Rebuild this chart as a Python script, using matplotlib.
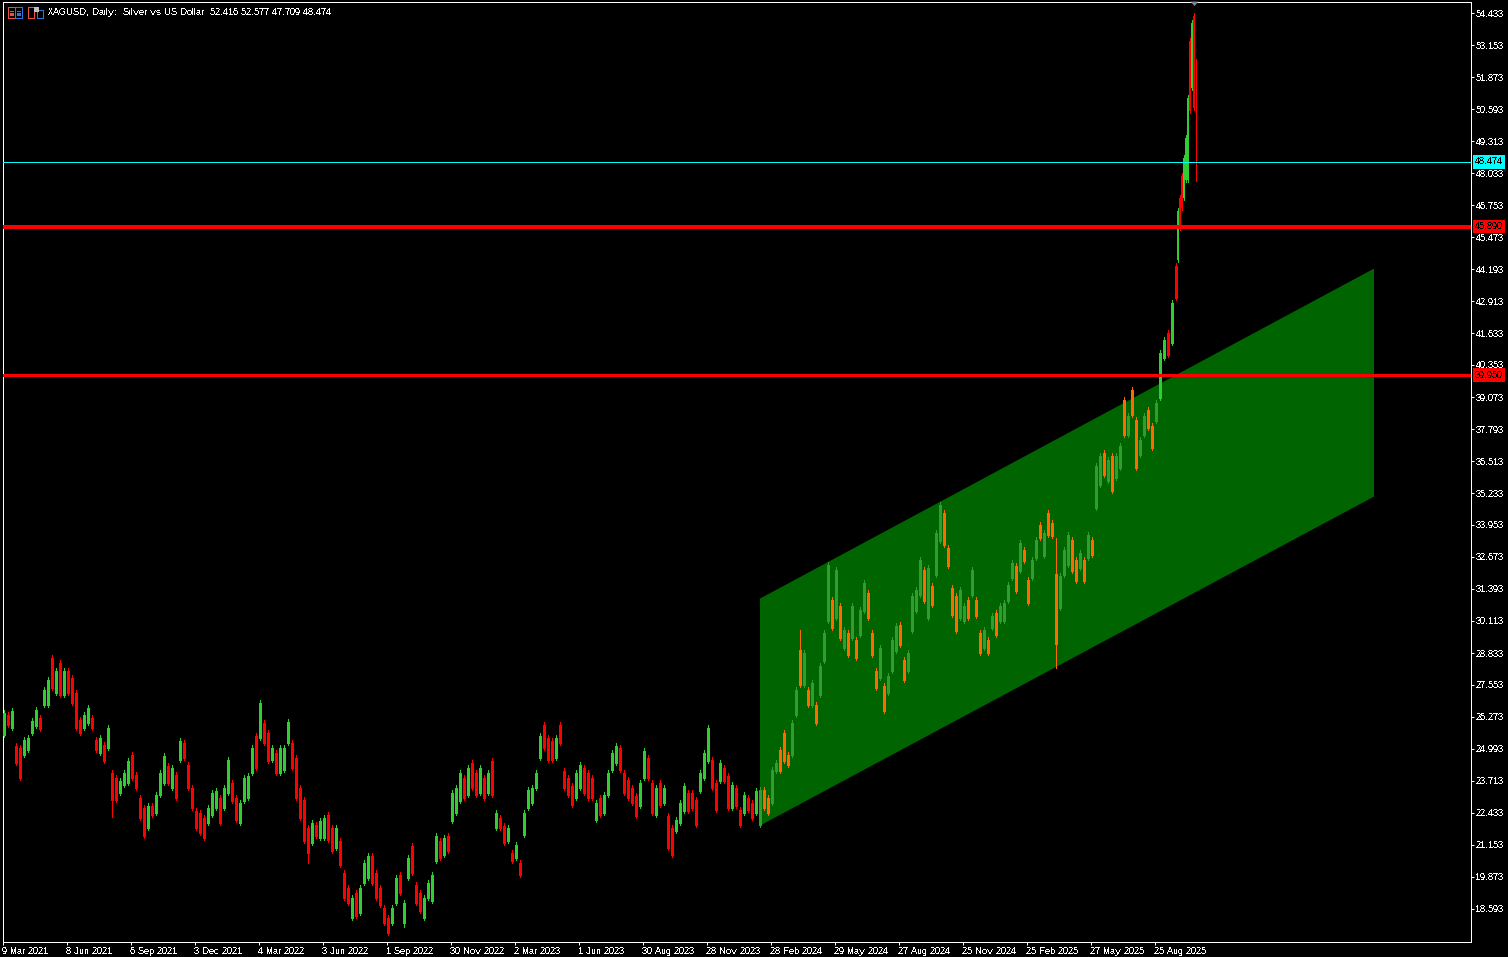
import numpy as np
import matplotlib
matplotlib.use('Agg')
import matplotlib.pyplot as plt
from matplotlib.patches import Rectangle

plt.rcParams['font.family'] = ['Liberation Sans', 'DejaVu Sans']
plt.rcParams['text.antialiased'] = False
plt.rcParams['text.hinting'] = 'native'
plt.rcParams['text.hinting_factor'] = 1

# XAGUSD daily candles, one row per 40 px of chart
highs = [
    26.55, 26.47, 26.63, 25.23, 25.15, 25.47, 25.55, 26.23, 26.67, 26.35,
    27.47, 27.87, 28.75, 28.23, 28.55, 28.23, 28.23, 27.95, 27.35, 26.27,
    26.47, 26.75, 26.35, 25.47, 25.55, 25.27, 25.95, 24.15, 23.95, 23.83,
    24.15, 24.63, 24.87, 24.07, 23.15, 22.75, 22.83, 22.83, 23.27, 24.15,
    24.83, 24.43, 24.35, 24.07, 25.43, 25.35, 24.47, 23.55, 22.63, 22.55,
    22.35, 22.75, 23.35, 23.43, 23.15, 23.55, 24.67, 23.75, 23.15, 22.95,
    23.95, 24.03, 25.15, 25.63, 26.95, 26.15, 25.75, 25.15, 24.95, 25.15,
    25.15, 26.19, 25.35, 24.75, 23.55, 23.07, 21.95, 22.15, 22.07, 22.23,
    22.35, 22.47, 21.95, 21.95, 21.43, 20.15, 19.55, 19.15, 19.35, 19.55,
    20.55, 20.83, 20.83, 20.15, 19.55, 18.75, 18.35, 18.75, 19.95, 20.07,
    18.95, 20.75, 21.23, 19.67, 19.35, 19.15, 19.75, 20.07, 21.63, 21.43,
    21.55, 21.63, 23.35, 23.55, 24.15, 23.95, 24.35, 24.55, 24.15, 24.35,
    23.95, 24.15, 24.63, 22.55, 22.35, 22.03, 21.95, 20.95, 21.27, 20.55,
    22.55, 23.47, 23.55, 24.15, 25.63, 26.07, 25.55, 25.43, 25.55, 26.07,
    24.23, 23.95, 23.63, 24.15, 24.47, 24.35, 24.15, 23.95, 22.95, 23.15,
    23.27, 24.15, 24.95, 25.23, 25.15, 24.15, 23.87, 23.55, 23.23, 23.75,
    25.03, 24.75, 23.75, 23.55, 23.75, 23.55, 22.43, 21.95, 22.27, 22.95,
    23.63, 23.35, 23.35, 23.07, 24.15, 24.95, 25.95, 24.67, 23.75, 24.55,
    24.35, 24.03, 23.67, 23.55, 22.67, 23.27, 23.15, 22.95, 23.43, 23.47,
    23.47, 23.15, 24.27, 24.55, 25.07, 25.75, 24.87, 26.15, 27.47, 29.75,
    28.95, 27.47, 27.75, 26.87, 28.43, 29.75, 32.47, 31.07, 32.27, 30.83,
    29.87, 29.75, 30.83, 29.47, 30.67, 31.75, 31.35, 29.75, 28.23, 29.15,
    27.63, 28.03, 29.47, 30.03, 30.07, 28.67, 28.95, 31.23, 31.47, 32.67,
    32.27, 32.35, 31.63, 33.75, 34.87, 34.55, 33.15, 31.55, 31.23, 31.47,
    30.83, 31.07, 32.27, 31.07, 29.75, 29.87, 29.47, 30.43, 30.55, 30.83,
    30.95, 31.67, 32.55, 32.43, 33.35, 33.07, 31.87, 32.67, 33.47, 34.07,
    33.75, 34.55, 34.15, 33.43, 32.03, 33.07, 33.67, 33.47, 32.67, 32.95,
    32.67, 33.67, 33.47, 36.43, 36.83, 36.95, 36.67, 36.83, 36.83, 37.23,
    39.07, 38.43, 39.47, 38.27, 37.47, 38.43, 38.67, 38.03, 38.95, 40.95,
    41.47, 41.75, 42.95, 44.43, 46.63, 47.15, 48.03, 48.75, 49.55, 51.15, 53.43, 54.15, 54.43, 52.577,
]
lows = [
    25.47, 25.87, 25.75, 24.35, 23.75, 24.67, 24.87, 25.55, 25.83, 25.71,
    26.67, 26.67, 27.35, 27.15, 27.07, 27.07, 27.15, 26.75, 25.75, 25.55,
    25.75, 25.95, 25.75, 24.87, 24.75, 24.43, 24.95, 22.27, 22.87, 23.15,
    23.47, 23.55, 23.75, 23.35, 22.15, 21.43, 21.75, 22.27, 22.35, 23.07,
    23.55, 23.55, 23.35, 22.95, 24.47, 24.55, 23.35, 22.55, 21.75, 21.55,
    21.35, 21.95, 22.27, 22.55, 21.95, 22.55, 23.15, 22.83, 22.07, 21.95,
    22.83, 22.95, 23.95, 24.15, 25.35, 25.15, 24.43, 24.47, 23.95, 23.95,
    24.07, 25.15, 24.15, 22.95, 22.15, 21.23, 20.43, 21.15, 21.43, 21.35,
    21.35, 21.27, 20.83, 20.95, 20.27, 18.95, 18.75, 18.15, 18.23, 18.35,
    19.55, 19.75, 19.55, 18.95, 18.67, 17.95, 17.55, 17.95, 18.75, 19.15,
    17.87, 19.75, 19.95, 18.75, 18.43, 18.15, 18.95, 18.83, 20.43, 20.55,
    20.67, 20.83, 22.03, 22.35, 22.83, 22.95, 23.07, 23.35, 23.07, 23.15,
    22.95, 23.15, 23.07, 21.75, 21.75, 21.15, 21.23, 20.43, 20.55, 19.87,
    21.47, 22.55, 22.75, 23.35, 24.55, 24.95, 24.47, 24.47, 24.55, 25.15,
    23.35, 23.07, 22.67, 22.95, 23.35, 23.15, 22.95, 22.95, 22.07, 22.27,
    22.35, 23.07, 24.07, 24.35, 24.07, 23.15, 22.95, 22.75, 22.23, 22.63,
    23.75, 23.75, 22.35, 22.27, 22.67, 22.75, 20.95, 20.67, 21.63, 21.95,
    22.43, 22.43, 22.55, 21.87, 23.23, 23.75, 24.43, 23.35, 22.47, 23.63,
    23.63, 22.55, 22.55, 22.63, 21.87, 22.35, 22.47, 22.15, 22.35, 21.87,
    22.55, 22.35, 22.75, 24.03, 24.03, 24.43, 24.27, 24.67, 26.27, 27.47,
    27.47, 26.67, 26.67, 25.95, 27.07, 28.43, 30.03, 29.75, 30.15, 29.35,
    28.95, 28.67, 29.35, 28.55, 29.47, 30.43, 30.15, 28.67, 27.35, 27.75,
    26.43, 27.15, 28.03, 28.83, 29.07, 27.67, 28.03, 29.63, 30.43, 31.07,
    30.83, 30.15, 30.67, 31.87, 33.23, 33.07, 32.23, 30.27, 29.63, 30.15,
    30.03, 30.15, 31.07, 30.23, 28.75, 28.95, 28.75, 29.75, 29.47, 30.03,
    30.03, 30.83, 31.75, 31.23, 32.03, 32.43, 30.75, 31.75, 32.55, 33.35,
    32.63, 33.47, 33.43, 28.23, 30.55, 31.87, 32.27, 32.03, 31.63, 32.15,
    31.63, 32.55, 32.67, 34.55, 35.47, 35.87, 35.63, 35.23, 35.75, 36.15,
    37.47, 37.47, 38.27, 36.15, 36.67, 37.47, 37.75, 36.95, 38.03, 38.95,
    40.55, 40.67, 41.15, 42.95, 44.47, 45.75, 46.55, 46.95, 47.67, 47.67, 50.43, 51.35, 50.55, 47.709,
]
opens = [
    25.57, 26.37, 25.85, 25.13, 25.05, 24.77, 24.97, 25.65, 25.93, 26.25,
    26.77, 26.77, 28.65, 27.25, 28.45, 27.17, 28.13, 27.85, 27.25, 26.17,
    25.85, 26.05, 26.25, 25.37, 24.85, 25.17, 25.05, 24.05, 23.85, 23.25,
    23.57, 23.65, 24.77, 23.97, 23.05, 22.65, 21.85, 22.73, 22.45, 23.17,
    23.65, 24.33, 23.45, 23.97, 24.57, 25.25, 24.37, 23.45, 22.53, 22.45,
    22.25, 22.05, 22.37, 22.65, 23.05, 22.65, 23.25, 23.65, 23.05, 22.05,
    22.93, 23.05, 24.05, 25.53, 25.45, 26.05, 25.65, 24.57, 24.85, 24.05,
    24.17, 25.25, 25.25, 24.65, 23.45, 22.97, 21.85, 21.25, 21.97, 21.45,
    21.45, 22.37, 21.85, 21.05, 21.33, 20.05, 19.45, 18.25, 19.25, 18.45,
    19.65, 19.85, 20.73, 20.05, 19.45, 18.65, 18.25, 18.05, 18.85, 19.97,
    18.05, 19.85, 21.13, 19.57, 19.25, 18.25, 19.05, 18.93, 20.53, 21.33,
    20.77, 21.53, 22.13, 22.45, 22.93, 23.85, 23.17, 24.45, 24.05, 23.25,
    23.85, 23.25, 24.53, 21.85, 22.25, 21.93, 21.33, 20.85, 20.65, 20.45,
    21.57, 22.65, 22.85, 23.45, 24.65, 25.97, 25.45, 25.33, 24.65, 25.97,
    24.13, 23.85, 23.53, 23.05, 23.45, 24.25, 24.05, 23.85, 22.17, 23.05,
    22.45, 23.17, 24.17, 24.45, 25.05, 24.05, 23.77, 23.45, 23.13, 22.73,
    23.85, 24.65, 23.65, 22.37, 23.65, 22.85, 22.33, 21.85, 21.73, 22.05,
    22.53, 23.25, 23.25, 22.97, 23.33, 23.85, 24.53, 24.57, 23.65, 23.73,
    24.25, 23.93, 22.65, 23.45, 22.57, 22.45, 23.05, 22.85, 22.45, 21.97,
    23.37, 23.05, 22.85, 24.13, 24.97, 25.65, 24.77, 24.77, 26.37, 28.95,
    27.57, 27.37, 26.77, 26.77, 27.17, 28.53, 30.13, 30.97, 30.25, 30.73,
    29.05, 29.65, 29.45, 29.37, 29.57, 30.53, 31.25, 29.65, 28.13, 27.85,
    27.53, 27.25, 28.13, 28.93, 29.97, 28.57, 28.13, 29.73, 30.53, 31.17,
    32.17, 30.25, 31.53, 31.97, 33.33, 34.45, 33.05, 31.45, 31.13, 30.25,
    30.13, 30.97, 31.17, 30.97, 29.65, 29.05, 29.37, 29.85, 30.45, 30.13,
    30.13, 30.93, 31.85, 32.33, 32.13, 32.97, 31.77, 31.85, 32.65, 33.97,
    32.73, 34.45, 34.05, 32.00, 30.65, 31.97, 32.37, 33.37, 32.57, 32.25,
    32.57, 32.65, 33.37, 34.65, 35.57, 36.85, 35.73, 36.73, 35.85, 36.25,
    38.97, 37.57, 39.37, 38.17, 36.77, 37.57, 38.57, 37.93, 38.13, 39.05,
    40.65, 41.65, 41.25, 44.33, 44.57, 47.05, 47.93, 47.05, 47.77, 47.77, 53.33, 51.45, 54.33, 52.416,
]
closes = [
    26.45, 25.97, 26.53, 24.45, 23.85, 25.37, 25.45, 26.13, 26.57, 25.81,
    27.37, 27.77, 27.45, 28.13, 27.17, 28.13, 27.25, 26.85, 25.85, 25.65,
    26.37, 26.65, 25.85, 24.97, 25.45, 24.53, 25.85, 22.97, 22.97, 23.73,
    24.05, 24.53, 23.85, 23.45, 22.25, 21.53, 22.73, 22.37, 23.17, 24.05,
    24.73, 23.65, 24.25, 23.05, 25.33, 24.65, 23.45, 22.65, 21.85, 21.65,
    21.45, 22.65, 23.25, 23.33, 22.05, 23.45, 24.57, 22.93, 22.17, 22.85,
    23.85, 23.93, 25.05, 24.25, 26.85, 25.25, 24.53, 25.05, 24.05, 25.05,
    25.05, 26.09, 24.25, 23.05, 22.25, 21.33, 20.83, 22.05, 21.53, 22.13,
    22.25, 21.37, 20.93, 21.85, 20.37, 19.05, 18.85, 19.05, 18.33, 19.45,
    20.45, 20.73, 19.65, 19.05, 18.77, 18.05, 17.65, 18.65, 19.85, 19.25,
    18.85, 20.65, 20.05, 18.85, 18.53, 19.05, 19.65, 19.97, 21.53, 20.65,
    21.45, 20.93, 23.25, 23.45, 24.05, 23.05, 24.25, 23.45, 23.17, 24.25,
    23.05, 24.05, 23.17, 22.45, 21.85, 21.25, 21.85, 20.53, 21.17, 19.97,
    22.45, 23.37, 23.45, 24.05, 25.53, 25.05, 24.57, 24.57, 25.45, 25.25,
    23.45, 23.17, 22.77, 24.05, 24.37, 23.25, 23.05, 23.05, 22.85, 22.37,
    23.17, 24.05, 24.85, 25.13, 24.17, 23.25, 23.05, 22.85, 22.33, 23.65,
    24.93, 23.85, 22.45, 23.45, 22.77, 23.45, 21.05, 20.77, 22.17, 22.85,
    23.53, 22.53, 22.65, 21.97, 24.05, 24.85, 25.85, 23.45, 22.57, 24.45,
    23.73, 22.65, 23.57, 22.73, 21.97, 23.17, 22.57, 22.25, 23.33, 23.37,
    22.65, 22.45, 24.17, 24.45, 24.13, 24.53, 24.37, 26.05, 27.37, 27.57,
    28.85, 26.77, 27.65, 26.05, 28.33, 29.65, 32.37, 29.85, 32.17, 29.45,
    29.77, 28.77, 30.73, 28.65, 30.57, 31.65, 30.25, 28.77, 27.45, 29.05,
    26.53, 27.93, 29.37, 29.93, 29.17, 27.77, 28.85, 31.13, 31.37, 32.57,
    30.93, 32.25, 30.77, 33.65, 34.77, 33.17, 32.33, 30.37, 29.73, 31.37,
    30.73, 30.25, 32.17, 30.33, 28.85, 29.77, 28.85, 30.33, 29.57, 30.73,
    30.85, 31.57, 32.45, 31.33, 33.25, 32.53, 30.85, 32.57, 33.37, 33.45,
    33.65, 33.57, 33.53, 29.20, 31.93, 32.97, 33.57, 32.13, 31.73, 32.85,
    31.73, 33.57, 32.77, 36.33, 36.73, 35.97, 36.57, 35.33, 36.73, 37.13,
    37.57, 38.33, 38.37, 36.25, 37.37, 38.33, 37.85, 37.05, 38.85, 40.85,
    41.37, 40.77, 42.85, 43.05, 46.53, 45.85, 46.65, 48.65, 49.45, 51.05, 50.53, 54.05, 50.65, 48.474,
]

date_labels = ['9 Mar 2021', '8 Jun 2021', '6 Sep 2021', '3 Dec 2021', '4 Mar 2022', '3 Jun 2022',
               '1 Sep 2022', '30 Nov 2022', '2 Mar 2023', '1 Jun 2023', '30 Aug 2023', '28 Nov 2023',
               '28 Feb 2024', '29 May 2024', '27 Aug 2024', '25 Nov 2024', '25 Feb 2025', '27 May 2025',
               '25 Aug 2025']
price_ticks = [54.433, 53.153, 51.873, 50.593, 49.313, 48.033, 46.753, 45.473, 44.193, 42.913,
               41.633, 40.353, 39.073, 37.793, 36.513, 35.233, 33.953, 32.673, 31.393, 30.113,
               28.833, 27.553, 26.273, 24.993, 23.713, 22.433, 21.153, 19.873, 18.593]

# channel object, bar position and price at both ends
channel_x = [757, 1371]
channel_top = [31.03, 44.23]
channel_bottom = [21.95, 35.11]

last_price = 48.474
level_upper = 45.890
level_lower = 39.950

W, H = 1508, 957
FONT_SIZE = 6.5
fig = plt.figure(figsize=(W / 100, H / 100), dpi=100, facecolor='black')
ax = fig.add_axes([2.5 / W, 1 - 941.5 / H, 1468.5 / W, 940 / H], facecolor='black')
ax.set_xlim(0, 1468.5)
ax.set_ylim(54.953 - 0.04 * 941.5, 54.953 - 0.04 * 1.5)

highs, lows, opens, closes = map(np.array, (highs, lows, opens, closes))
bar_x = np.r_[1:1174:4, 1175:1194:2]

# filled channel
ax.fill_between(channel_x, channel_bottom, channel_top, color='#006400', lw=0, zorder=1)

# candles sitting on the channel are blended by the terminal
up = closes >= opens
top_line = np.interp(bar_x, channel_x, channel_top)
inside = (bar_x >= channel_x[0]) & ((opens + closes) / 2 < top_line)
colors = np.where(up, np.where(inside, '#2f9e2f', '#32cd32'),
                  np.where(inside, '#ff6a00', '#ff0000'))
body_px = np.where(bar_x < 1175, 3, 2)
body_px[-1] = 1

ax.vlines(bar_x, lows, highs, colors=colors, lw=0.72, antialiased=False, zorder=2)
ax.vlines(bar_x, opens, closes, colors=colors, lw=body_px * 0.72, antialiased=False, zorder=3)

# marker at the newest high and the horizontal levels
ax.fill([1188, 1196, 1192], [54.89, 54.89, 54.71], color='#778899', lw=0, clip_on=False, zorder=5)
ax.axhline(last_price, color='#00ffff', lw=0.72, antialiased=False, zorder=4)
ax.axhline(level_upper, color='#ff0000', lw=1.6, antialiased=False, zorder=4)
ax.axhline(level_lower, color='#ff0000', lw=2.16, antialiased=False, zorder=4)

for spine in ax.spines.values():
    spine.set_color('white')
    spine.set_linewidth(0.72)

ax.yaxis.tick_right()
ax.set_yticks(price_ticks)
ax.set_yticklabels(['%.3f' % p for p in price_ticks])
ax.set_xticks(np.arange(len(date_labels)) * 64)
ax.set_xticklabels(date_labels, ha='left')
ax.tick_params(axis='both', colors='white', length=2.2, width=0.72, labelsize=FONT_SIZE)
ax.tick_params(axis='y', pad=1.2)
ax.tick_params(axis='x', pad=1.5)

# price tags over the scale
for price, colour in [(last_price, '#00ffff'), (level_upper, '#ff0000'), (level_lower, '#ff0000')]:
    ax.text(1.0025, price, '%.3f' % price, transform=ax.get_yaxis_transform(), color='black', fontsize=FONT_SIZE,
            va='center', ha='left', zorder=6, clip_on=False,
            bbox=dict(facecolor=colour, edgecolor=colour, pad=1.5, lw=0))

# header text and the two small icons
fig.text(48 / W, 1 - 12.5 / H, 'XAGUSD, Daily:  Silver vs US Dollar  52.416 52.577 47.709 48.474',
         color='white', fontsize=FONT_SIZE, va='center', ha='left')


def icon_rect(x, y, w, h, colour, fill=False):
    fig.add_artist(Rectangle((x / W, 1 - (y + h) / H), w / W, h / H, transform=fig.transFigure,
                             edgecolor=colour, facecolor=colour if fill else 'none',
                             lw=0.72, antialiased=False))


icon_rect(7.5, 7.5, 14, 10, '#f05040')
icon_rect(14.5, 7.5, 7, 10, '#2a78e4')
for row in [10.5, 12.5, 14.5]:
    icon_rect(9.5, row, 3, 0.2, '#f05040')
    icon_rect(16.5, row, 3, 0.2, '#2a78e4')
icon_rect(28.5, 7.5, 6, 10, '#f05040')
icon_rect(36.5, 9.5, 6, 8, '#2a78e4')
icon_rect(33.5, 7.5, 4, 3, '#c0c0c0', fill=True)

fig.savefig('out.png', dpi=100, facecolor='black')
